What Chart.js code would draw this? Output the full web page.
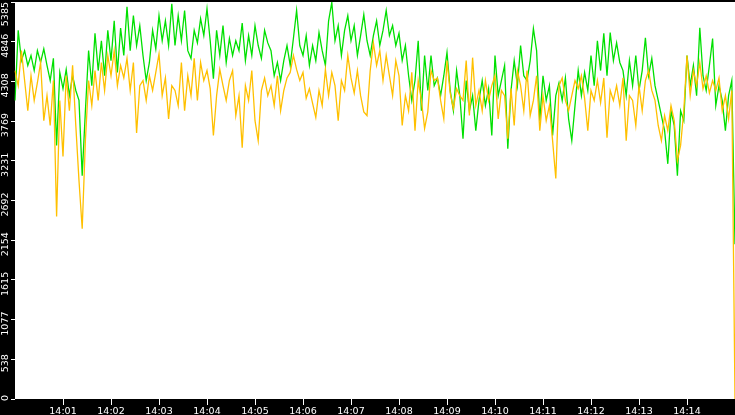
<!DOCTYPE html>
<html>
<head>
<meta charset="utf-8">
<script src="https://cdn.jsdelivr.net/npm/chart.js@4/dist/chart.umd.min.js"></script>
<style>
  html, body { margin: 0; padding: 0; background: #000; }
  #chart { display: block; }
</style>
</head>
<body>
<canvas id="chart" width="735" height="415"></canvas>
<script>
// one sample every 4 s, 14:00:00 .. 14:15:00
const sampleSeconds = 4;
const sampleCount = 226;
const xTickLabels = ['14:01', '14:02', '14:03', '14:04', '14:05', '14:06', '14:07',
  '14:08', '14:09', '14:10', '14:11', '14:12', '14:13', '14:14'];
const yTickValues = [0, 538.5, 1077, 1615.5, 2154, 2692.5, 3231, 3769.5, 4308, 4846.5, 5385];
const yTickLabels = ['0', '538', '1077', '1615', '2154', '2692', '3231', '3769', '4308', '4846', '5385'];

const greenSeries = [
  4050, 5000, 4590, 4725, 4525, 4660, 4455, 4725, 4565, 4750,
  4525, 4320, 4620, 3440, 4430, 4210, 4470, 4115, 4385, 4185,
  4050, 3030, 3910, 4725, 4250, 4960, 4455, 4860, 4385, 5000,
  4590, 5130, 4430, 5030, 4660, 5320, 4725, 5200, 4795, 5065,
  4660, 4320, 4565, 5000, 4750, 5200, 4860, 5130, 4795, 5360,
  4795, 5200, 4860, 5270, 4725, 4620, 5000, 4830, 5160, 4930,
  5295, 4860, 4345, 5000, 4660, 5065, 4565, 4890, 4660, 4860,
  4725, 5100, 4590, 4930, 4660, 5065, 4795, 4620, 5000, 4830,
  4725, 4385, 4565, 4320, 4590, 4795, 4525, 4890, 5270, 4795,
  4660, 4930, 4525, 4795, 4590, 4970, 4725, 4525, 5130, 5380,
  4860, 5065, 4660, 5000, 5200, 4860, 5065, 4660, 4930, 5215,
  4860, 4660, 4930, 5130, 4795, 5000, 5270, 4930, 5065, 4795,
  4960, 4590, 4795, 4385, 4050, 4320, 4860, 3910, 4660, 4185,
  4660, 4250, 4355, 4115, 4385, 4700, 4185, 3910, 4455, 4115,
  3530, 4320, 3910, 4115, 3640, 4050, 4320, 3980, 4210, 3575,
  4660, 4115, 4320, 4525, 3395, 4185, 4590, 4250, 4795, 4385,
  4320, 4590, 5025, 4725, 3775, 4385, 4050, 4250, 3575, 4115,
  4290, 4050, 4355, 3800, 3505, 3980, 4455, 4115, 4430, 4185,
  4660, 4250, 4860, 4455, 4960, 4385, 4970, 4590, 4830, 4565,
  4455, 4115, 4590, 4250, 4660, 4185, 4455, 4900, 4385, 4620,
  4250, 4050, 3845, 3640, 3190, 3910, 3710, 3030, 3910, 3775,
  4660, 4250, 4525, 4115, 5035, 4385, 4185, 4525, 4890, 3980,
  4250, 4050, 3640, 4115, 4320, 2100,
];

const orangeSeries = [
  4455, 4250, 4725, 4320, 3910, 4385, 4050, 4290, 4565, 3775,
  4115, 3710, 4320, 2475, 4050, 3290, 4385, 3910, 4525, 3710,
  2960, 2310, 3505, 4320, 3980, 4455, 4050, 4565, 4185, 4660,
  4385, 4725, 4250, 4525, 4355, 4620, 4185, 4565, 3610, 4250,
  4320, 4050, 4385, 4185, 4430, 4680, 4115, 4355, 3800, 4250,
  4185, 3980, 4565, 3910, 4385, 4115, 4620, 4050, 4565, 4320,
  4455, 4210, 3575, 4115, 4470, 4250, 4050, 4320, 4455, 3845,
  4115, 3410, 4250, 4050, 4455, 3775, 3505, 4185, 4355, 4115,
  4250, 3980, 4385, 3910, 4185, 4355, 4430, 4660, 4470, 4320,
  4430, 4080, 4210, 4010, 3820, 4185, 3980, 4470, 4115, 4430,
  4250, 3775, 4320, 4185, 4660, 4355, 4150, 4455, 4115, 3895,
  3845, 4455, 4830, 4525, 4725, 4320, 4660, 4385, 4115, 4590,
  4385, 3710, 4115, 3910, 4430, 3640, 4320, 4050, 3670, 3895,
  4455, 4320, 4355, 4050, 3800, 4590, 4150, 3940, 4210, 4115,
  4050, 4590, 3845, 4630, 3980, 4185, 3910, 4320, 4050, 4250,
  4385, 3800, 4185, 4115, 3530, 4210, 3710, 4455, 4250, 3910,
  4455, 3845, 4050, 4385, 3640, 4115, 3775, 3980, 3505, 2990,
  4250, 4355, 4050, 3910, 4115, 4320, 4210, 4385, 4080, 3640,
  4185, 4050, 4320, 4020, 4355, 3545, 4185, 4050, 4250, 3980,
  4355, 3505, 4115, 4050, 3710, 4250, 3910, 4320, 4455, 4185,
  4050, 3710, 3505, 3845, 3640, 3980, 3775, 3235, 3440, 3910,
  4660, 4115, 4455, 4250, 4565, 4210, 4385, 4150, 4320, 4185,
  4355, 3910, 4115, 3800, 4185, 0,
];

const categories = [];
for (let i = 0; i < sampleCount; i += 1) {
  const sec = i * sampleSeconds;
  const mm = String(Math.floor(sec / 60)).padStart(2, '0');
  const ss = String(sec % 60).padStart(2, '0');
  categories.push(`14:${mm}:${ss}`);
}

const fontFamily = "'DejaVu Sans', sans-serif";
const fontSize = 9.5;

// white plot area on the black canvas
const plotBackground = {
  id: 'plotBackground',
  beforeDraw(chart) {
    const { ctx, chartArea } = chart;
    ctx.save();
    ctx.fillStyle = '#000';
    ctx.fillRect(0, 0, chart.width, chart.height);
    ctx.fillStyle = '#fff';
    ctx.fillRect(chartArea.left, chartArea.top, chartArea.right - chartArea.left, chartArea.bottom - chartArea.top);
    ctx.restore();
  },
};

// y labels are written bottom-to-top, Chart.js can't rotate vertical-axis ticks
const verticalYLabels = {
  id: 'verticalYLabels',
  afterDraw(chart) {
    const { ctx } = chart;
    const yScale = chart.scales.y;
    ctx.save();
    ctx.fillStyle = '#fff';
    ctx.font = `${fontSize}px ${fontFamily}`;
    ctx.textAlign = 'center';
    ctx.textBaseline = 'middle';
    yTickValues.forEach((value, index) => {
      const label = yTickLabels[index];
      const half = ctx.measureText(label).width / 2;
      let cy = yScale.getPixelForValue(value) + 4;
      cy = Math.max(cy, 2 + half);
      cy = Math.min(cy, chart.height - 14 - half);
      ctx.save();
      ctx.translate(6, cy);
      ctx.rotate(-Math.PI / 2);
      ctx.fillText(label, 0, 0);
      ctx.restore();
    });
    ctx.restore();
  },
};

new Chart(document.getElementById('chart').getContext('2d'), {
  type: 'line',
  data: {
    labels: categories,
    datasets: [
      {
        label: 'orange',
        data: orangeSeries,
        borderColor: '#ffc000',
        borderWidth: 1.3,
        pointRadius: 0,
        tension: 0,
        fill: false,
      },
      {
        label: 'green',
        data: greenSeries,
        borderColor: '#00e000',
        borderWidth: 1.3,
        pointRadius: 0,
        tension: 0,
        fill: false,
      },
    ],
  },
  options: {
    responsive: false,
    animation: false,
    layout: { padding: { top: 2, right: 0, left: 0, bottom: 0 } },
    plugins: {
      legend: { display: false },
      tooltip: { enabled: false },
    },
    scales: {
      x: {
        offset: false,
        afterFit(scale) { scale.height = 16; },
        afterBuildTicks(scale) {
          scale.ticks = xTickLabels.map((label) => ({ value: categories.indexOf(`${label}:00`) }));
        },
        ticks: {
          color: '#fff',
          autoSkip: false,
          maxRotation: 0,
          minRotation: 0,
          padding: 1,
          font: { family: fontFamily, size: fontSize },
          callback(value) {
            return categories[value].slice(0, 5);
          },
        },
        grid: {
          drawOnChartArea: false,
          drawTicks: true,
          tickLength: 6,
          tickColor: '#fff',
        },
        border: { display: false },
      },
      y: {
        min: 0,
        max: 5385,
        afterFit(scale) { scale.width = 15; },
        afterBuildTicks(scale) {
          scale.ticks = yTickValues.map((value) => ({ value }));
        },
        ticks: { display: false },
        grid: {
          drawOnChartArea: false,
          drawTicks: true,
          tickLength: 4,
          tickColor: '#fff',
        },
        border: { display: false },
      },
    },
  },
  plugins: [plotBackground, verticalYLabels],
});
</script>
</body>
</html>
